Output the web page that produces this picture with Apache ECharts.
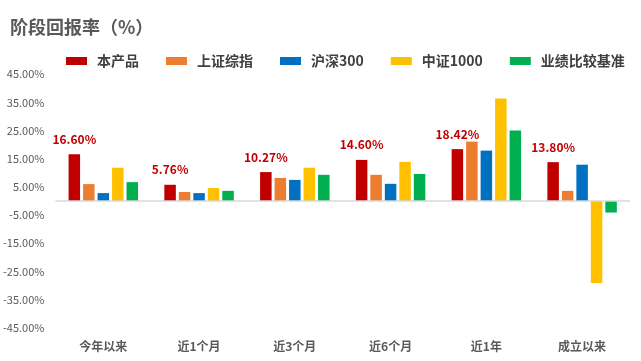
<!DOCTYPE html>
<html>
<head>
<meta charset="utf-8">
<script src="https://cdn.jsdelivr.net/npm/echarts@6/dist/echarts.min.js"></script>
<style>
  html, body { margin: 0; padding: 0; background: #fff; }
  #chart { width: 641px; height: 361px; }
</style>
</head>
<body>
<div id="chart"></div>
<script>
// 阶段回报率数据
var categories = ['今年以来', '近1个月', '近3个月', '近6个月', '近1年', '成立以来'];
var seriesNames = ['本产品', '上证综指', '沪深300', '中证1000', '业绩比较基准'];
var product = [16.60, 5.76, 10.27, 14.60, 18.42, 13.80];
var sse = [6.0, 3.2, 8.2, 9.3, 21.1, 3.6];
var csi300 = [2.8, 2.8, 7.5, 6.1, 17.9, 12.9];
var csi1000 = [11.8, 4.6, 11.8, 13.9, 36.4, -29.1];
var benchmark = [6.7, 3.6, 9.3, 9.6, 25.0, -4.1];
var colors = ['#C00000', '#ED7D31', '#0070C0', '#FFC000', '#00B050'];

var font = '"Noto Sans CJK SC", "Noto Sans", sans-serif';
var myChart = echarts.init(document.getElementById('chart'));

var dataList = [product, sse, csi300, csi1000, benchmark];
var series = [];
dataList.forEach(function(d, i) {
    var s = {
        name: seriesNames[i],
        type: 'bar',
        barWidth: 11.5,
        barGap: '26%',
        itemStyle: { color: colors[i] },
        data: d
    };
    if (i == 0) {
        s.label = {
            show: true,
            position: 'top',
            distance: 9,
            color: '#C00000',
            fontSize: 12,
            fontWeight: 'bold',
            fontFamily: font,
            formatter: function(p) { return p.value.toFixed(2) + '%'; }
        };
        // 零轴线
        s.markLine = {
            silent: true,
            symbol: 'none',
            label: { show: false },
            lineStyle: { color: '#d9d9d9', width: 1.5, type: 'solid' },
            data: [{ yAxis: 0 }]
        };
    }
    series.push(s);
});

var options = {
    animation: false,
    color: colors,
    title: {
        text: '阶段回报率（%）',
        left: 5,
        top: 13,
        textStyle: { fontSize: 18, fontWeight: 'bold', color: '#595959', fontFamily: font }
    },
    legend: {
        data: seriesNames,
        left: 61,
        top: 49,
        icon: 'rect',
        itemWidth: 21,
        itemHeight: 8,
        itemGap: 27,
        textStyle: { fontSize: 14, fontWeight: 'bold', color: '#404040', fontFamily: font, padding: [0, 0, 0, 5] }
    },
    grid: { left: 55, right: 11, top: 74.3, bottom: 33.3 },
    xAxis: {
        type: 'category',
        data: categories,
        axisLine: { show: false, onZero: false },
        axisTick: { show: false },
        axisLabel: { margin: 13, fontSize: 12, fontWeight: 'bold', color: '#595959', fontFamily: font }
    },
    yAxis: {
        type: 'value',
        min: -45,
        max: 45,
        interval: 10,
        splitLine: { show: false },
        axisLine: { show: false },
        axisTick: { show: false },
        axisLabel: {
            margin: 11,
            fontSize: 11,
            color: '#595959',
            fontFamily: font,
            formatter: function(v) { return v.toFixed(2) + '%'; }
        }
    },
    series: series
};
myChart.setOption(options);
</script>
</body>
</html>
